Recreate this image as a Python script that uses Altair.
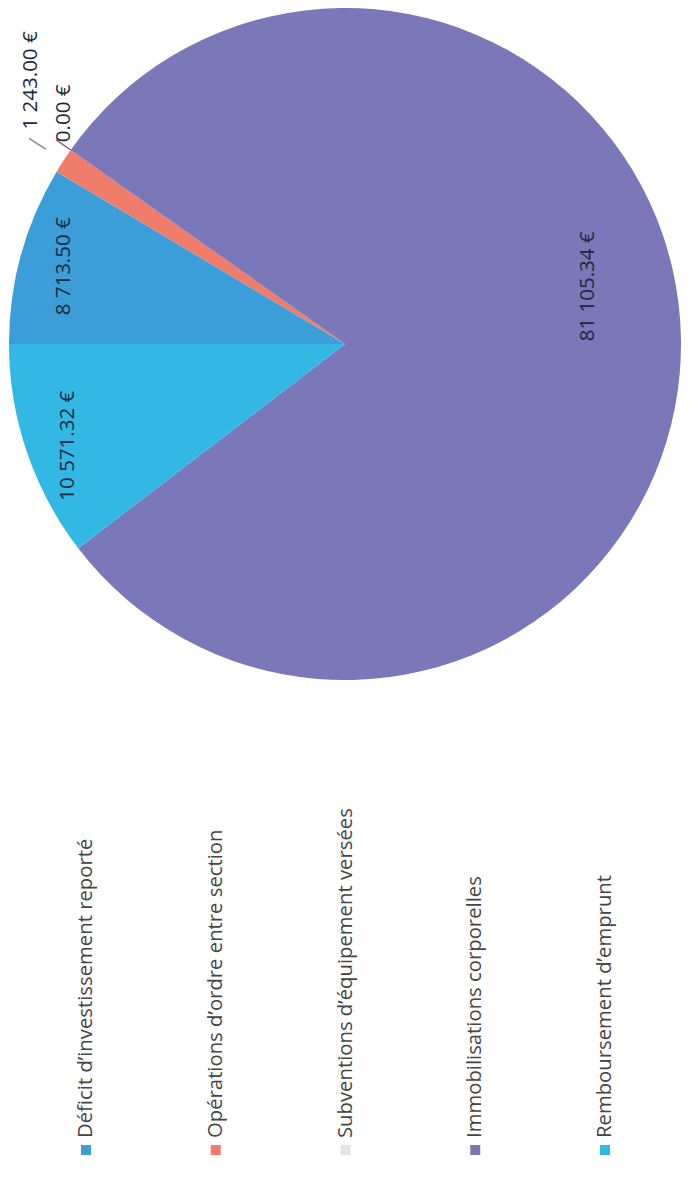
import math
import altair as alt
import pandas as pd

# ---- data ----
categories = [
    "Déficit d’investissement reporté",
    "Opérations d’ordre entre section",
    "Subventions d’équipement versées",
    "Immobilisations corporelles",
    "Remboursement d’emprunt",
]
values = [8713.50, 1243.00, 0.00, 81105.34, 10571.32]
labels = ["8 713.50 €", "1 243.00 €", "0.00 €", "81 105.34 €", "10 571.32 €"]
colors = ["#3b9ed9", "#f07c6c", "#e6e4dc", "#7b78b9", "#33b8e6"]

df = pd.DataFrame({
    "idx": list(range(len(categories))),
    "cat": categories,
    "value": values,
    "label": labels,
})

total = sum(values)
theta_scale = alt.Scale(domain=[0, total], range=[1.5 * math.pi, 3.5 * math.pi])
color_scale = alt.Scale(domain=categories, range=colors)

FONT = "Open Sans"
LABEL_COLOR = "#1c2a3a"

base = (
    alt.Chart(df)
    .transform_window(cum="sum(value)", sort=[alt.SortField("idx")])
    .transform_calculate(start="datum.cum - datum.value",
                         mid="datum.cum - datum.value / 2")
)

arcs = base.mark_arc(radius=336).encode(
    theta=alt.Theta("start:Q", scale=theta_scale),
    theta2="cum:Q",
    color=alt.Color("cat:N", scale=color_scale, legend=None),
)

mid_theta = alt.Theta("mid:Q", scale=theta_scale)

lead_ops = base.transform_filter("datum.idx == 1").mark_arc(
    radius=377, radius2=357, fillOpacity=0, stroke="#8c8c8c", strokeWidth=1.5
).encode(theta=mid_theta, theta2="mid:Q")

lead_zero = base.transform_filter("datum.idx == 2").mark_arc(
    radius=354, radius2=336, fillOpacity=0, stroke="#8a5c90", strokeWidth=1.5
).encode(theta=mid_theta, theta2="mid:Q")

txt_kw = dict(angle=270, fontSize=20.5, font=FONT, color=LABEL_COLOR,
              align="center", baseline="middle")

lab_a = base.transform_filter("datum.idx == 0").mark_text(
    radius=292, **txt_kw
).encode(theta=mid_theta, text="label:N")

lab_e = base.transform_filter("datum.idx == 4").mark_text(
    radius=292, dx=-8, **txt_kw
).encode(theta=mid_theta, text="label:N")

lab_big = base.transform_filter("datum.idx == 3").mark_text(
    radius=243, dx=53, **txt_kw
).encode(theta=mid_theta, text="label:N")

lab_ops = base.transform_filter("datum.idx == 1").mark_text(
    radius=375, dx=59, **txt_kw
).encode(theta=mid_theta, text="label:N")

lab_zero = base.transform_filter("datum.idx == 2").mark_text(
    radius=344, dx=32, **txt_kw
).encode(theta=mid_theta, text="label:N")

pie = alt.layer(arcs, lead_ops, lead_zero, lab_a, lab_e, lab_big, lab_ops, lab_zero).properties(
    width=674, height=672
)

# ---- legend drawn as rotated text ----
x_enc = alt.X(
    "cat:N",
    scale=alt.Scale(domain=categories, range=[78, 597], padding=0),
    axis=None,
)

swatches = alt.Chart(df).mark_square(size=100, opacity=1).encode(
    x=x_enc,
    y=alt.value(470),
    color=alt.Color("cat:N", scale=color_scale, legend=None),
)
legend_text = alt.Chart(df).mark_text(
    angle=270, align="left", baseline="middle", fontSize=20.3, font=FONT, color="#454545"
).encode(
    x=x_enc,
    y=alt.value(458),
    text="cat:N",
)
legend_panel = alt.layer(swatches, legend_text).properties(width=674, height=490)

chart = (
    alt.vconcat(pie, legend_panel, spacing=0)
    .properties(padding=0, background="white")
    .configure_view(strokeWidth=0)
)

chart.save("out.html", embed_options={"renderer": "svg", "actions": False})
